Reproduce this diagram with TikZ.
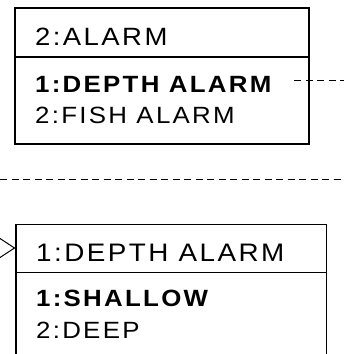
\documentclass[tikz,border=0pt]{standalone}
\usepackage{fontspec}
\setmainfont{Liberation Sans}
\newfontfamily\widefont[FakeStretch=1.1,LetterSpace=9.7]{Liberation Sans}
\begin{document}
\begin{tikzpicture}[x=1pt,y=-1pt,
  boxline/.style={line width=1.4pt},
  dashline/.style={line width=1pt, dash pattern=on 7pt off 4.5pt},
  hdr/.style={anchor=base west, inner sep=0pt, font=\fontsize{25}{28}\widefont},
  hdrb/.style={anchor=base west, inner sep=0pt, font=\fontsize{25.3}{28}\widefont},
  itm/.style={anchor=base west, inner sep=0pt, font=\fontsize{23.5}{26}\widefont},
  itmb/.style={itm, font=\fontsize{23.5}{26}\widefont\bfseries}]
\useasboundingbox (0,0) rectangle (344,354);
\clip (0,0) rectangle (344,354);
% top box
\coordinate (tl) at (15,8);
\coordinate (br) at (309,144);
\draw[boxline] (tl) rectangle (br);
\coordinate (d1) at (15,57);
\coordinate (d2) at (309,57);
\draw[boxline] (d1) -- (d2);
\node[hdr] (alarm) at (35,45) {2:ALARM};
\node[itmb] (depth) at (35,92.5) {1:DEPTH ALARM};
\node[itm] (fish) at (35,123.5) {2:FISH ALARM};
% connector to the right
\coordinate (r1) at (294,80);
\coordinate (r2) at (344,80);
\draw[dashline] (r1) -- (r2);
% separator
\coordinate (s1) at (0,179);
\coordinate (s2) at (344,179);
\draw[dashline] (s1) -- (s2);
% bottom box
\coordinate (btl) at (16,224.3);
\coordinate (bbr) at (326.7,370);
\draw[boxline] (btl) rectangle (bbr);
\coordinate (e1) at (16,272.7);
\coordinate (e2) at (326.7,272.7);
\draw[boxline] (e1) -- (e2);
\node[hdrb] (dahdr) at (36,261.7) {1:DEPTH ALARM};
\node[itmb] (shallow) at (36,306.7) {1:SHALLOW};
\node[itm] (deep) at (36,338.3) {2:DEEP};
% arrow head
\coordinate (a1) at (0,238.5);
\coordinate (tip) at (14.5,248);
\coordinate (a2) at (0,257.5);
\draw[line width=1pt] (a1) -- (tip) -- (a2);
\end{tikzpicture}
\end{document}
